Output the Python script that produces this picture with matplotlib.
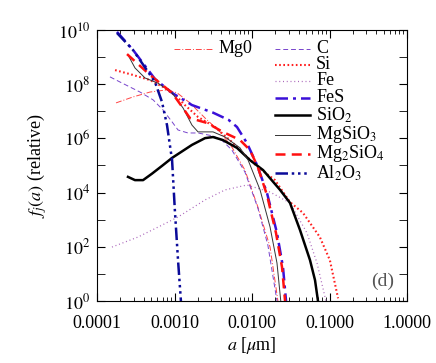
import numpy as np
import matplotlib
matplotlib.use("Agg")
import matplotlib.pyplot as plt

# Size distributions f_j(a) (a in micron, log10 of f)
mgo_a = [1.76e-4, 2.92e-4, 4.83e-4, 8.0e-4, 1.08e-3, 1.58e-3, 2.48e-3, 3.87e-3, 5.5e-3, 8.1e-3, 1.19e-2, 1.71e-2, 2.16e-2]
mgo_f = [7.31, 7.53, 7.71, 7.79, 7.68, 7.31, 6.75, 6.24, 5.68, 4.83, 3.47, 1.99, 0.0]

c_a = [1.47e-4, 1.98e-4, 3.59e-4, 5.3e-4, 7.1e-4, 9.3e-4, 1.11e-3, 1.49e-3, 2.01e-3, 3.14e-3, 4.2e-3, 5.5e-3, 8.1e-3, 1.19e-2, 1.6e-2, 2.1e-2]
c_f = [8.27, 8.08, 7.71, 7.42, 7.05, 6.61, 6.31, 6.2, 6.2, 6.09, 5.9, 5.57, 4.76, 3.43, 2.07, 0.0]

si_a = [1.71e-4, 2.92e-4, 4.83e-4, 7.1e-4, 1.08e-3, 1.36e-3, 2.01e-3, 3.33e-3, 5.5e-3, 8.1e-3, 1.19e-2, 1.98e-2, 3.09e-2, 4.55e-2, 7.5e-2, 0.101, 0.129]
si_f = [8.52, 8.34, 8.15, 7.9, 7.53, 7.23, 6.79, 6.42, 5.87, 5.39, 4.94, 4.46, 3.65, 3.25, 2.36, 1.51, 0.1]

fe_a = [1.56e-4, 3.38e-4, 6.9e-4, 1.11e-3, 2.48e-3, 4.5e-3, 8.6e-3, 1.71e-2, 3.09e-2, 5.12e-2, 6.9e-2, 9.0e-2]
fe_f = [1.99, 2.36, 2.8, 3.1, 3.73, 4.1, 4.28, 4.02, 3.62, 2.51, 1.4, 0.0]

fes_a = [1.81e-4, 2.92e-4, 5.6e-4, 9.3e-4, 1.68e-3, 3.14e-3, 5.0e-3, 6.4e-3, 8.6e-3, 1.16e-2, 1.56e-2, 2.1e-2, 2.51e-2, 2.75e-2]
fes_f = [9.93, 9.26, 8.19, 7.68, 7.23, 6.95, 6.68, 6.42, 5.83, 5.02, 3.99, 2.51, 1.25, 0.0]

sio2_a = [2.51e-4, 3.09e-4, 3.93e-4, 5.13e-4, 7.0e-4, 9.3e-4, 1.68e-3, 2.48e-3, 3.14e-3, 4.2e-3, 6.4e-3, 9.4e-3, 1.39e-2, 2.3e-2, 3.09e-2, 4.16e-2, 5.6e-2, 6.5e-2, 7.1e-2]
sio2_f = [4.58, 4.46, 4.46, 4.7, 5.0, 5.28, 5.76, 6.01, 6.05, 5.94, 5.65, 5.2, 4.83, 4.1, 3.62, 2.62, 1.51, 0.77, 0.0]

mgsio3_a = [2.51e-4, 3.09e-4, 4.16e-4, 6.1e-4, 9.3e-4, 1.29e-3, 1.68e-3, 2.01e-3, 3.14e-3, 4.5e-3, 7.0e-3, 8.9e-3, 1.27e-2, 1.71e-2, 2.1e-2, 2.35e-2]
mgsio3_f = [9.08, 8.6, 8.23, 8.04, 7.68, 7.12, 6.49, 6.24, 6.24, 6.05, 5.65, 5.2, 4.1, 2.73, 1.4, 0.0]

mg2sio4_a = [2.44e-4, 4.83e-4, 9.3e-4, 1.3e-3, 1.58e-3, 2.62e-3, 4.2e-3, 7.0e-3, 9.4e-3, 1.19e-2, 1.56e-2, 2.04e-2, 2.44e-2, 2.67e-2]
mg2sio4_f = [9.11, 8.34, 7.68, 7.1, 6.75, 6.57, 6.24, 5.94, 5.57, 4.94, 3.91, 2.51, 1.25, 0.0]

al2o3_a = [1.81e-4, 2.92e-4, 5.6e-4, 6.9e-4, 8.0e-4, 9.3e-4, 1.01e-3, 1.11e-3, 1.21e-3]
al2o3_f = [9.89, 9.26, 8.08, 7.34, 6.49, 5.2, 3.36, 1.51, 0.0]

x_ticks = [1e-4, 1e-3, 1e-2, 1e-1, 1.0]
x_labels = ["0.0001", "0.0010", "0.0100", "0.1000", "1.0000"]
y_ticks = [1e0, 1e2, 1e4, 1e6, 1e8, 1e10]
y_labels = [r"$10^{%d}$" % p for p in [0, 2, 4, 6, 8, 10]]

plt.rcParams['font.family'] = ['Liberation Serif', 'DejaVu Serif']
plt.rcParams['mathtext.fontset'] = 'stix'
plt.rcParams['font.size'] = 13

fig = plt.figure(figsize=(4.36, 3.63), dpi=100)
ax = fig.add_axes([0.2225, 0.1708, 0.711, 0.7466])

def f(v):
    return np.power(10.0, v)

# style per species
st = {
    'mgo': dict(color='#ff4444', lw=0.7, dashes=(6, 2, 1, 2)),
    'c': dict(color='#7744cc', lw=0.7, dashes=(5, 3)),
    'si': dict(color='#ff2020', lw=1.5, dashes=(0.8, 1.2)),
    'fe': dict(color='#aa66bb', lw=0.9, dashes=(0.8, 2.2)),
    'fes': dict(color='#3a10d8', lw=1.8, dashes=(5, 2, 1.2, 2)),
    'sio2': dict(color='black', lw=1.8),
    'mgsio3': dict(color='#333333', lw=0.7),
    'mg2sio4': dict(color='#ff1010', lw=1.8, dashes=(4, 2.5)),
    'al2o3': dict(color='#0a0a99', lw=1.8, dashes=(5, 1.5, 1, 1.5, 1, 1.5, 1, 1.5)),
}

ax.plot(mgo_a, f(mgo_f), **st['mgo'])
ax.plot(c_a, f(c_f), **st['c'])
ax.plot(si_a, f(si_f), **st['si'])
ax.plot(fe_a, f(fe_f), **st['fe'])
ax.plot(fes_a, f(fes_f), **st['fes'])
ax.plot(sio2_a, f(sio2_f), **st['sio2'])
ax.plot(mgsio3_a, f(mgsio3_f), **st['mgsio3'])
ax.plot(mg2sio4_a, f(mg2sio4_f), **st['mg2sio4'])
ax.plot(al2o3_a, f(al2o3_f), **st['al2o3'])

ax.set_xscale('log')
ax.set_yscale('log')
ax.set_xlim(1e-4, 1.0)
ax.set_ylim(1e0, 1e10)
ax.set_xticks(x_ticks)
ax.set_xticklabels(x_labels)
ax.set_yticks(y_ticks)
ax.set_yticklabels(y_labels)
ax.yaxis.set_minor_locator(matplotlib.ticker.FixedLocator([1e1, 1e3, 1e5, 1e7, 1e9]))
ax.yaxis.set_minor_formatter(matplotlib.ticker.NullFormatter())
ax.tick_params(which='both', direction='in', top=True, right=True)
ax.tick_params(axis='x', which='major', length=6, width=0.8, pad=10)
ax.tick_params(axis='y', which='major', length=6, width=0.8, pad=5)
ax.tick_params(which='minor', length=3, width=0.6)
ax.tick_params(axis='y', which='minor', length=6)

ax.set_xlabel(r"$a$ [$\mu$m]", labelpad=2)
ax.set_ylabel(r"$f_j(a)$ (relative)", labelpad=6)

ax.text(0.96, 0.04, "(d)", transform=ax.transAxes, ha='right', va='bottom', fontsize=14, color='#555555')

# legend drawn by hand in two columns
def leg_entry(x0, x1, y, txt, key):
    ax.plot([x0, x1], [y, y], transform=ax.transAxes, clip_on=False, **st[key])
    ax.text(x1 + 0.02, y, txt, transform=ax.transAxes, va='center', ha='left', fontsize=13)

ly = lambda py: (301 - py) / 271.0
lx = lambda px: (px - 97) / 310.0
leg_entry(lx(174), lx(212), ly(49), "Mg0", 'mgo')
leg_entry(lx(275), lx(310), ly(49), "C", 'c')
leg_entry(lx(275), lx(310), ly(65), "Si", 'si')
leg_entry(lx(275), lx(310), ly(81), "Fe", 'fe')
leg_entry(lx(275), lx(310), ly(98), "FeS", 'fes')
leg_entry(lx(275), lx(310), ly(115), r"SiO$_2$", 'sio2')
leg_entry(lx(275), lx(310), ly(135), r"MgSiO$_3$", 'mgsio3')
leg_entry(lx(275), lx(310), ly(154), r"Mg$_2$SiO$_4$", 'mg2sio4')
leg_entry(lx(275), lx(310), ly(173), r"Al$_2$O$_3$", 'al2o3')

fig.savefig("out.png", dpi=100)
